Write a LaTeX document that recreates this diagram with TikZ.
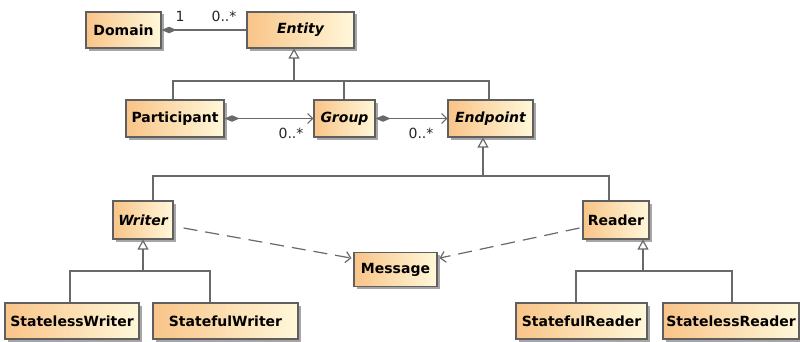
\documentclass[tikz,border=0pt]{standalone}
\usepackage{fontspec}
\setmainfont{DejaVu Sans}
\usetikzlibrary{arrows.meta,shadows,calc}
\definecolor{boxL}{RGB}{249,196,136}
\definecolor{boxR}{RGB}{255,248,218}
\definecolor{boxline}{RGB}{95,95,95}
\definecolor{conn}{RGB}{105,105,105}
\tikzset{
  umlbox/.style={draw=boxline, line width=1.1pt, left color=boxL, right color=boxR,
    drop shadow={shadow xshift=2.5pt, shadow yshift=-2.5pt, fill=black, opacity=0.35},
    font=\bfseries\fontsize{14}{16}\selectfont, inner sep=0pt, minimum height=36pt},
  abs/.style={font=\bfseries\itshape\fontsize{14}{16}\selectfont},
  conline/.style={draw=conn, line width=1.2pt},
  gen/.style={conline, -{Triangle[open, width=11pt, length=10pt]}},
  comp/.style={conline, {Diamond[length=15pt, width=6.5pt, fill=conn]}-},
  compnav/.style={conline, {Diamond[length=15pt, width=6.5pt, fill=conn]}-{Straight Barb[length=5pt, width=10pt]}},
  dep/.style={conline, dash pattern=on 14pt off 8pt, -{Straight Barb[length=5pt, width=11pt]}},
  mult/.style={font=\fontsize{14}{16}\selectfont, text=black!85, inner sep=0pt},
}
\begin{document}
\begin{tikzpicture}[x=1pt, y=1pt]
\useasboundingbox (0,0) rectangle (800,341);
% nodes
\node[umlbox, minimum width=75pt] (Domain) at (123.5,311) {Domain};
\node[umlbox, abs, minimum width=107pt] (Entity) at (300.5,311) {Entity};
\node[umlbox, minimum width=98pt, minimum height=37pt] (Participant) at (175,222.5) {Participant};
\node[umlbox, abs, minimum width=61pt, minimum height=37pt] (Group) at (344.5,222.5) {Group};
\node[umlbox, abs, minimum width=85pt, minimum height=37pt] (Endpoint) at (490.5,222.5) {Endpoint};
\node[umlbox, abs, minimum width=60pt, minimum height=38pt] (Writer) at (143,121) {Writer};
\node[umlbox, minimum width=66pt, minimum height=38pt] (Reader) at (616,121) {Reader};
\node[umlbox, minimum width=83pt, minimum height=34pt] (Message) at (395.5,71.5) {Message};
\node[umlbox, minimum width=134pt] (SLW) at (72,20) {StatelessWriter};
\node[umlbox, minimum width=145pt] (SFW) at (225.5,20) {StatefulWriter};
\node[umlbox, minimum width=131pt] (SFR) at (581.5,20) {StatefulReader};
\node[umlbox, minimum width=136pt] (SLR) at (731,20) {StatelessReader};
% junctions
\coordinate (J1) at (294,260);
\coordinate (J2) at (483,165);
\coordinate (J3) at (143,70);
\coordinate (J4) at (643,70);
% generalizations
\draw[gen] (J1) -- (J1 |- Entity.south);
\draw[conline] ([xshift=-2pt]Participant.north) |- (J1);
\draw[conline] ([xshift=-0.5pt]Group.north) |- (J1);
\draw[conline] ([xshift=-1.5pt]Endpoint.north) |- (J1);
\draw[gen] (J2) -- (J2 |- Endpoint.south);
\draw[conline] ([xshift=10pt]Writer.north) |- (J2);
\draw[conline] ([xshift=-7pt]Reader.north) |- (J2);
\draw[gen] (J3) -- (J3 |- Writer.south);
\draw[conline] ([xshift=-2pt]SLW.north) |- (J3);
\draw[conline] ([xshift=-15.5pt]SFW.north) |- (J3);
\draw[gen] (J4) -- (J4 |- Reader.south);
\draw[conline] ([xshift=-5.5pt]SFR.north) |- (J4);
\draw[conline] ([xshift=1pt]SLR.north) |- (J4);
% associations
\draw[comp] (Domain.east) -- (Entity.west);
\draw[compnav] (Participant.east) -- (Group.west);
\draw[compnav] (Group.east) -- (Endpoint.west);
% dependencies
\draw[dep, shorten >=2pt] ([xshift=10pt, yshift=-8pt]Writer.east) -- ([yshift=11pt]Message.west);
\draw[dep, shorten >=2pt] ([xshift=-3pt, yshift=-8pt]Reader.west) -- ([yshift=11pt]Message.east);
% multiplicities
\node[mult] (m1) at (180,325) {1};
\node[mult] (m2) at (224,325) {0..*};
\node[mult] (m3) at (291,208) {0..*};
\node[mult] (m4) at (421,208) {0..*};
\end{tikzpicture}
\end{document}
